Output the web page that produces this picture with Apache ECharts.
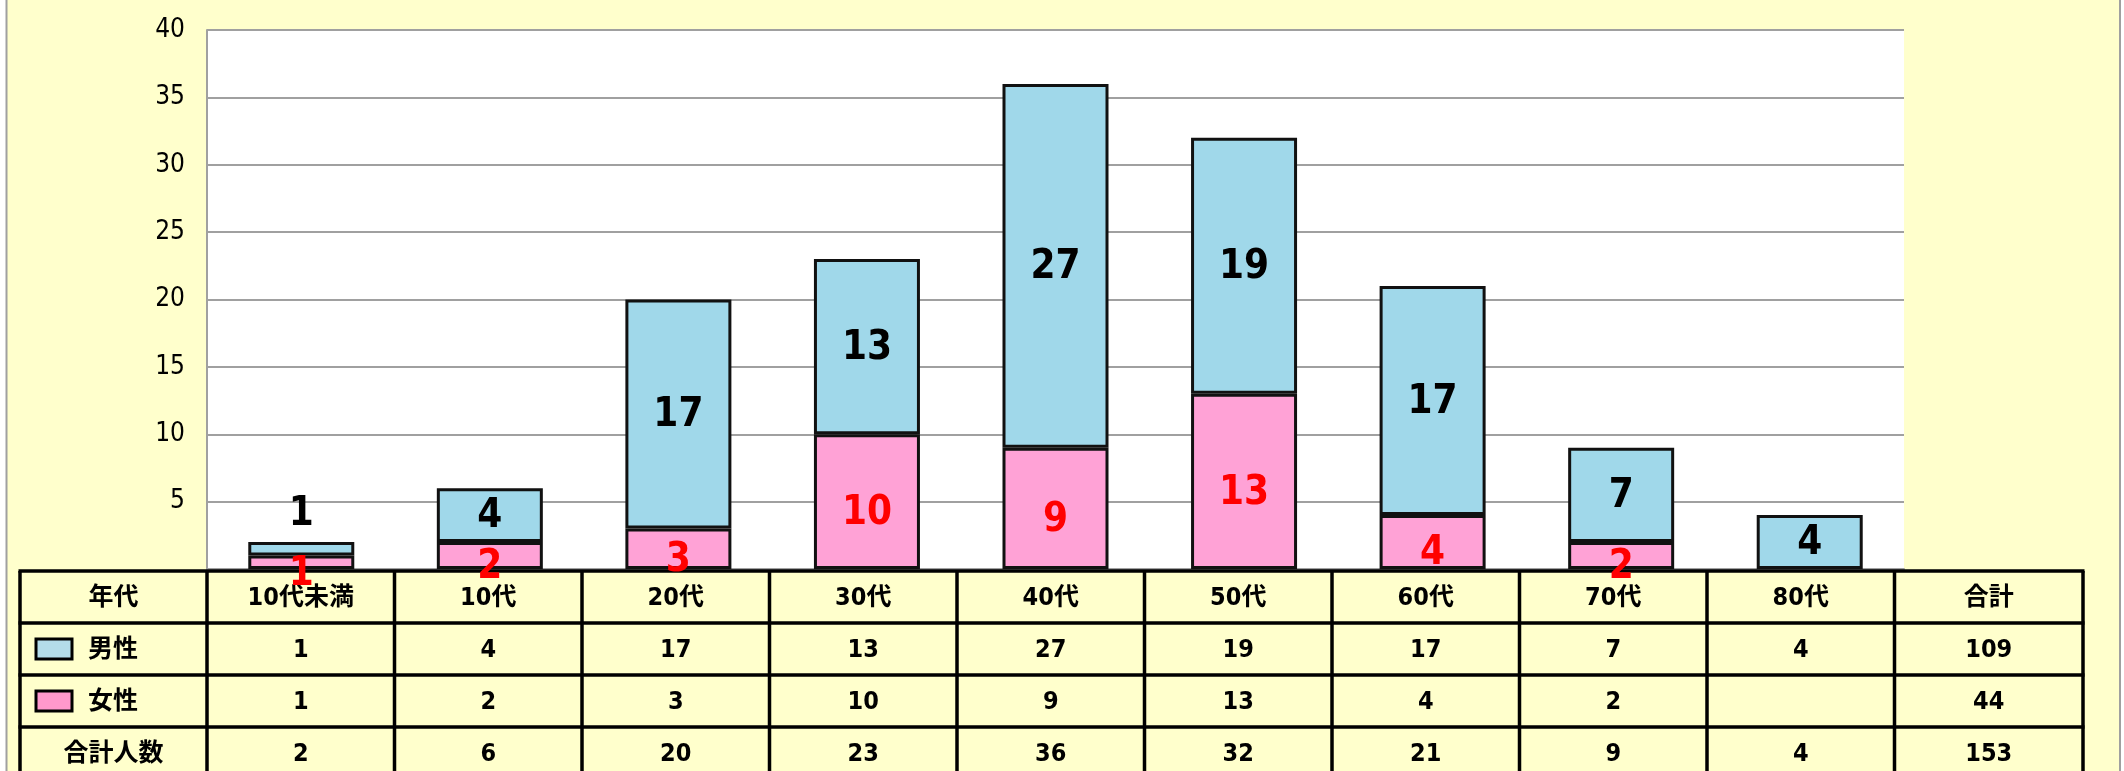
<!DOCTYPE html>
<html>
<head>
<meta charset="utf-8">
<script src="https://cdn.jsdelivr.net/npm/echarts@6/dist/echarts.min.js"></script>
<style>
html, body { margin: 0; padding: 0; background: #fff; }
#chart { width: 2124px; height: 771px; }
</style>
</head>
<body>
<div id="chart"></div>
<script>
// 年代別・男女別の人数
var ages = ['10代未満', '10代', '20代', '30代', '40代', '50代', '60代', '70代', '80代']
var male = [1, 4, 17, 13, 27, 19, 17, 7, 4]
var female = [1, 2, 3, 10, 9, 13, 4, 2, null]
var rowNames = ['男性', '女性', '合計人数']

var NARROW = '"Liberation Sans Narrow","DejaVu Sans Condensed","Noto Sans CJK JP",sans-serif'
var BLUE = '#A0D8EA'
var PINK = '#FFA2D6'

function sum(arr) {
  return arr.reduce(function(a, b) { return a + (b || 0) }, 0)
}
var totals = ages.map(function(a, i) { return (male[i] || 0) + (female[i] || 0) })

// table layout
var colEdges = [20]
for (var k = 0; k <= 9; k++) colEdges.push(207 + k * 187.5)
colEdges.push(2083)
var rowEdges = [571, 623, 675, 727, 779]

function cellText(col, row, txt) {
  var cx = (colEdges[col] + colEdges[col + 1]) / 2
  var cy = (rowEdges[row] + rowEdges[row + 1]) / 2
  return {
    type: 'text',
    z: 1,
    x: cx,
    y: cy + 1,
    style: {
      text: txt === null || txt === undefined ? '' : String(txt),
      fill: '#000',
      font: 'bold 25px ' + NARROW,
      align: 'center',
      verticalAlign: 'middle',
      textAlign: 'center',
      textVerticalAlign: 'middle'
    }
  }
}

function buildTable() {
  var els = []
  // white margins outside the frame
  els.push({ type: 'rect', z: 0, shape: { x: 0, y: 0, width: 6, height: 771 }, style: { fill: '#fff' } })
  els.push({ type: 'rect', z: 0, shape: { x: 2121, y: 0, width: 3, height: 771 }, style: { fill: '#fff' } })
  els.push({ type: 'line', z: 1, shape: { x1: 6.5, y1: 0, x2: 6.5, y2: 771 }, style: { stroke: '#A0A0A0', lineWidth: 2 } })
  els.push({ type: 'line', z: 1, shape: { x1: 2120, y1: 0, x2: 2120, y2: 771 }, style: { stroke: '#A0A0A0', lineWidth: 2 } })

  rowEdges.forEach(function(y) {
    els.push({ type: 'line', z: 1, shape: { x1: colEdges[0] - 1.5, y1: y, x2: colEdges[colEdges.length - 1] + 1.5, y2: y }, style: { stroke: '#000', lineWidth: 3.5 } })
  })
  colEdges.forEach(function(x) {
    els.push({ type: 'line', z: 1, shape: { x1: x, y1: rowEdges[0], x2: x, y2: rowEdges[rowEdges.length - 1] }, style: { stroke: '#000', lineWidth: 3.5 } })
  })

  // header
  els.push(cellText(0, 0, '年代'))
  ages.forEach(function(a, i) { els.push(cellText(i + 1, 0, a)) })
  els.push(cellText(10, 0, '合計'))

  // rows
  var rows = [male, female, totals]
  var rowSums = [sum(male), sum(female), sum(totals)]
  rows.forEach(function(vals, r) {
    vals.forEach(function(v, i) { els.push(cellText(i + 1, r + 1, v)) })
    els.push(cellText(10, r + 1, rowSums[r]))
  })

  // legend swatches + names
  ;[0, 1].forEach(function(r) {
    var cy = (rowEdges[r + 1] + rowEdges[r + 2]) / 2
    els.push({ type: 'rect', z: 1, shape: { x: 36, y: cy - 10, width: 36, height: 20 }, style: { fill: r === 0 ? '#B4DDE9' : '#FF99CC', stroke: '#000', lineWidth: 3 } })
    els.push({
      type: 'text', z: 1, x: 88, y: cy + 1,
      style: { text: rowNames[r], fill: '#000', font: 'bold 25px ' + NARROW, align: 'left', verticalAlign: 'middle', textAlign: 'left', textVerticalAlign: 'middle' }
    })
  })
  els.push(cellText(0, 3, rowNames[2]))
  return els
}

var maleData = male.map(function(v) {
  var item = { value: v }
  if (v < 2) {
    item.label = { position: 'top', distance: 9 }
  }
  return item
})

var chart = echarts.init(document.getElementById('chart'))
chart.setOption({
  backgroundColor: '#FFFFCC',
  animation: false,
  grid: {
    left: 207,
    top: 30,
    right: 220,
    bottom: 202,
    show: true,
    backgroundColor: '#fff',
    borderWidth: 0
  },
  xAxis: {
    type: 'category',
    data: ages,
    axisLabel: { show: false },
    axisTick: { show: false },
    axisLine: { lineStyle: { color: '#A0A0A0', width: 2 } }
  },
  yAxis: {
    type: 'value',
    min: 0,
    max: 40,
    interval: 5,
    axisLine: { show: true, lineStyle: { color: '#A0A0A0', width: 2 } },
    axisTick: { show: false },
    splitLine: { lineStyle: { color: '#A0A0A0', width: 2 } },
    axisLabel: {
      color: '#000',
      fontSize: 26,
      fontFamily: NARROW,
      margin: 22,
      formatter: function(v) { return v === 0 ? '' : v }
    }
  },
  graphic: { elements: buildTable() },
  series: [
    {
      name: '女性',
      type: 'bar',
      stack: 'total',
      barWidth: 106,
      data: female,
      z: 3,
      itemStyle: { color: PINK, borderColor: '#111', borderWidth: 3 },
      label: {
        show: true,
        position: 'inside',
        offset: [0, 12],
        color: '#FF0000',
        fontSize: 40,
        fontWeight: 'bold',
        fontFamily: NARROW
      }
    },
    {
      name: '男性',
      type: 'bar',
      stack: 'total',
      barWidth: 106,
      data: maleData,
      z: 3,
      itemStyle: { color: BLUE, borderColor: '#111', borderWidth: 3 },
      label: {
        show: true,
        position: 'inside',
        offset: [0, 2],
        color: '#000',
        fontSize: 40,
        fontWeight: 'bold',
        fontFamily: NARROW
      }
    }
  ]
})
</script>
</body>
</html>
